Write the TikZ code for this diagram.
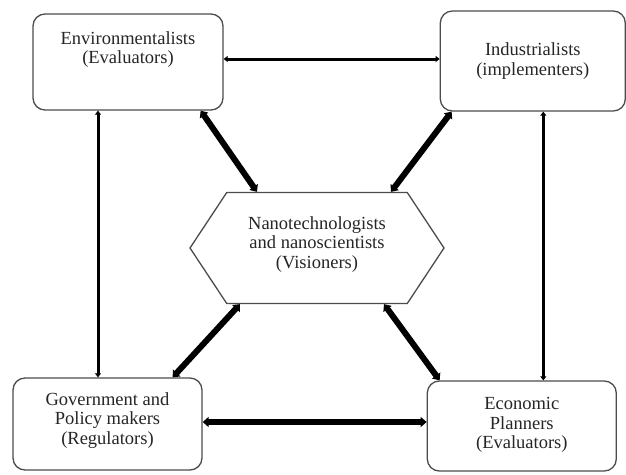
\documentclass[tikz,border=0pt]{standalone}
\usepackage{fontspec}
\setmainfont{Liberation Serif}
\usetikzlibrary{arrows.meta,positioning,shapes.symbols}

\begin{document}
\begin{tikzpicture}[
            x = 1pt, y = -1pt, % pixel units, y downwards
            > = {Triangle[length=4pt,width=6pt]}, % arrow head style
            semithick % line style
        ]

        \tikzstyle{actor}=[
            draw = black!70,
            line width = 1.3pt,
            rounded corners = 12pt,
            fill = white,
            align = center,
            text = black!85,
            font = \fontsize{18.5}{19.5}\selectfont
        ]
        \tikzstyle{visioner}=[
            actor,
            rounded corners = 0pt,
            shape = signal,
            signal to = east and west,
            signal pointer angle = 113,
            minimum width = 254pt,
            minimum height = 111pt
        ]
        \tikzstyle{thin link}=[<->, line width = 3pt]
        \tikzstyle{thick link}=[<->, line width = 6pt, > = {Triangle[length=6pt,width=10pt]}]

        \useasboundingbox (0,0) rectangle (626,474);

        \node[visioner] (hex) at (317,248) {Nanotechnologists\\and nanoscientists\\(Visioners)\\[-8pt]};
        \node[actor, minimum width = 190pt, minimum height = 96pt] (env) at (128,62)
            {Environmentalists\\(Evaluators)\\[9pt]};
        \node[actor, minimum width = 185pt, minimum height = 100pt, yshift = 1pt] (ind) [right=216pt of env]
            {Industrialists\\(implementers)};
        \node[actor, minimum width = 189pt, minimum height = 92pt] (gov) at (107.5,424)
            {Government and\\Policy makers\\(Regulators)\\[-8pt]};
        \node[actor, minimum width = 189pt, minimum height = 90pt, yshift = -2pt] (econ) [right=224pt of gov]
            {Economic\\Planners\\(Evaluators)\\[-14pt]};

        % outer ring
        \draw[thin link] ([yshift=3pt]env.east) -- ([yshift=3pt]env.east -| ind.west);
        \draw[thin link] ([xshift=-30pt]env.south) -- ([xshift=-30pt]env.south |- gov.north);
        \draw[thin link] ([xshift=10.5pt]ind.south) -- ([xshift=10.5pt]ind.south |- econ.north);
        \draw[thick link] ([yshift=2pt]gov.east) -- ([yshift=2pt]gov.east -| econ.west);

        % to and from the visioners
        \draw[thick link] ([xshift=-23pt]env.south east) -- ([xshift=-60pt]hex.north);
        \draw[thick link] ([xshift=12pt]ind.south west) -- ([xshift=74pt]hex.north);
        \draw[thick link] ([xshift=-30pt]gov.north east) -- ([xshift=-77pt]hex.south);
        \draw[thick link] ([xshift=13pt]econ.north west) -- ([xshift=67pt]hex.south);

    \end{tikzpicture}
\end{document}
